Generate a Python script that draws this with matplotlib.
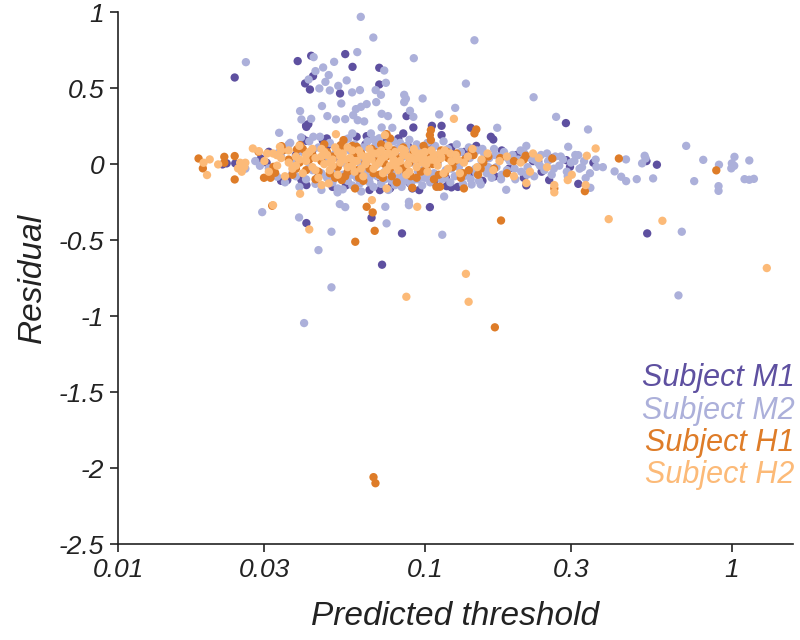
import numpy as np
import matplotlib
matplotlib.use('Agg')
import matplotlib.pyplot as plt

# (predicted threshold, residual)
m1_pts = [
    (0.0219, -0.002), (0.0226, 0.005), (0.0241, 0.005), (0.0292, 0.037), (0.0298, 0.015),
    (0.031, 0.081), (0.0305, 0.009), (0.034, -0.11), (0.038, 0.06), (0.040, -0.13),
    (0.043, 0.09), (0.045, -0.08), (0.048, 0.12), (0.050, -0.15), (0.053, 0.03),
    (0.056, -0.12), (0.058, 0.10), (0.061, -0.05), (0.064, 0.13), (0.066, -0.17),
    (0.069, 0.07), (0.072, -0.10), (0.075, 0.15), (0.078, -0.14), (0.081, 0.05),
    (0.084, -0.08), (0.088, 0.12), (0.091, -0.16), (0.095, 0.09), (0.099, -0.04),
    (0.103, 0.14), (0.107, -0.12), (0.112, 0.06), (0.117, -0.09), (0.122, 0.11),
    (0.128, -0.15), (0.134, 0.08), (0.140, -0.06), (0.147, 0.12), (0.154, -0.11),
    (0.161, 0.04), (0.169, -0.08), (0.178, 0.09), (0.188, -0.03), (0.199, 0.06),
    (0.21, -0.09), (0.225, 0.02), (0.24, -0.05), (0.26, 0.04),
    (0.024, 0.57), (0.0385, 0.678), (0.0426, 0.713), (0.055, 0.724), (0.0581, 0.64),
    (0.071, 0.634), (0.0432, 0.579), (0.0407, 0.531), (0.0422, 0.491), (0.0529, 0.465),
    (0.071, 0.524), (0.0871, 0.316), (0.041, 0.254), (0.0917, 0.241), (0.1054, 0.252),
    (0.1133, 0.252), (0.040, 0.167), (0.085, 0.202), (0.0819, 0.169), (0.0646, 0.184),
    (0.0599, 0.18), (0.0479, 0.169), (0.0465, 0.153), (0.0411, 0.245), (0.0417, 0.263),
    (0.0411, 0.153), (0.1133, 0.191), (0.141, 0.239), (0.164, 0.18), (0.167, 0.162),
    (0.288, 0.27), (0.234, 0.018), (0.289, 0.026), (0.297, -0.018), (0.354, 0.009),
    (0.527, 0.02), (0.57, -0.004), (0.316, -0.13), (0.254, -0.105), (0.214, -0.14),
    (0.122, -0.153), (0.0356, -0.105), (0.0411, -0.138), (0.0396, -0.105), (0.0553, -0.14),
    (0.0713, -0.171), (0.077, -0.16), (0.0894, -0.127), (0.0958, -0.171), (0.1177, -0.145),
    (0.0411, -0.388), (0.067, -0.353), (0.0725, -0.662), (0.0842, -0.456), (0.1038, -0.283),
    (0.0817, -0.101), (0.53, -0.456),
]

m2_pts = [
    (0.026, -0.03), (0.028, 0.02), (0.029, -0.011), (0.031, -0.028), (0.033, -0.083),
    (0.034, 0.05), (0.035, -0.12), (0.036, 0.13), (0.037, -0.06), (0.038, 0.02),
    (0.039, -0.15), (0.040, 0.08), (0.041, -0.10), (0.042, 0.15), (0.043, -0.04),
    (0.044, -0.13), (0.045, 0.11), (0.046, -0.17), (0.047, 0.04), (0.048, -0.09),
    (0.049, 0.14), (0.050, -0.12), (0.051, 0.07), (0.052, -0.16), (0.053, 0.12),
    (0.054, -0.07), (0.055, 0.16), (0.056, -0.11), (0.057, 0.09), (0.058, -0.14),
    (0.059, 0.13), (0.060, -0.09), (0.061, 0.03), (0.062, -0.18), (0.063, 0.11),
    (0.064, -0.05), (0.065, 0.15), (0.066, -0.12), (0.067, 0.06), (0.068, -0.15),
    (0.069, 0.12), (0.070, -0.08), (0.071, 0.17), (0.072, -0.13), (0.073, 0.04),
    (0.074, -0.10), (0.075, 0.13), (0.076, -0.17), (0.077, 0.08), (0.078, -0.06),
    (0.079, 0.15), (0.080, -0.12), (0.081, 0.10), (0.082, -0.09), (0.083, 0.14),
    (0.084, -0.15), (0.085, 0.05), (0.086, -0.11), (0.087, 0.12), (0.088, -0.07),
    (0.089, 0.16), (0.090, -0.13), (0.091, 0.08), (0.093, -0.10), (0.094, 0.13),
    (0.095, -0.05), (0.097, 0.11), (0.098, -0.14), (0.099, 0.06), (0.100, -0.09),
    (0.102, 0.14), (0.104, -0.12), (0.105, 0.09), (0.107, -0.06), (0.108, 0.12),
    (0.110, -0.15), (0.112, 0.07), (0.113, -0.10), (0.115, 0.15), (0.117, -0.04),
    (0.119, 0.10), (0.121, -0.12), (0.123, 0.05), (0.125, -0.08), (0.127, 0.13),
    (0.129, -0.02), (0.131, 0.08), (0.133, -0.13), (0.135, 0.03), (0.137, -0.06),
    (0.139, 0.11), (0.141, -0.10), (0.143, 0.06), (0.146, -0.03), (0.148, 0.09),
    (0.150, -0.11), (0.153, 0.02), (0.156, 0.07), (0.159, -0.06), (0.162, 0.04),
    (0.165, -0.09), (0.168, 0.10), (0.171, -0.02), (0.174, 0.05), (0.178, -0.07),
    (0.181, 0.08), (0.185, -0.04), (0.189, 0.02), (0.193, 0.06), (0.197, -0.10),
    (0.201, 0.03), (0.206, -0.05), (0.211, 0.07), (0.216, -0.02), (0.221, 0.04),
    (0.227, -0.08), (0.233, 0.01), (0.239, 0.06), (0.245, -0.04), (0.252, 0.02),
    (0.259, -0.07), (0.266, 0.05), (0.274, -0.01), (0.282, 0.03), (0.290, -0.05),
    (0.299, 0.01), (0.309, 0.06), (0.319, -0.03), (0.33, 0.02), (0.345, -0.06),
    (0.36, 0.03), (0.38, -0.02),
    (0.038, -0.08), (0.042, -0.02), (0.046, -0.06), (0.050, -0.04), (0.054, 0.01),
    (0.058, -0.07), (0.062, -0.01), (0.066, -0.09), (0.070, 0.00), (0.074, -0.05),
    (0.078, -0.11), (0.082, -0.02), (0.086, -0.07), (0.090, 0.01), (0.095, -0.10),
    (0.100, -0.03), (0.105, -0.07), (0.110, 0.00), (0.116, -0.09), (0.122, -0.03),
    (0.128, 0.01), (0.134, -0.08), (0.140, 0.04), (0.147, -0.06), (0.154, 0.10),
    (0.161, -0.02), (0.169, 0.06), (0.177, -0.10), (0.186, 0.04), (0.196, -0.03),
    (0.205, 0.09), (0.215, -0.07), (0.226, 0.03), (0.237, -0.01), (0.250, 0.07),
    (0.263, -0.03), (0.277, 0.05), (0.292, -0.08), (0.307, 0.02), (0.325, -0.02),
    (0.0261, 0.671), (0.0618, 0.969), (0.0679, 0.833), (0.145, 0.815), (0.0434, 0.704),
    (0.0602, 0.737), (0.0506, 0.673), (0.0737, 0.616), (0.092, 0.697), (0.0466, 0.636),
    (0.044, 0.612), (0.0418, 0.557), (0.0486, 0.586), (0.0474, 0.541), (0.049, 0.485),
    (0.0453, 0.498), (0.0522, 0.515), (0.0556, 0.551), (0.0579, 0.472), (0.0614, 0.487),
    (0.0746, 0.535), (0.0691, 0.487), (0.0719, 0.456), (0.0856, 0.456), (0.0867, 0.43),
    (0.0856, 0.408), (0.0983, 0.432), (0.0392, 0.349), (0.0462, 0.382), (0.0534, 0.399),
    (0.0596, 0.362), (0.0584, 0.322), (0.0604, 0.289), (0.0619, 0.377), (0.0646, 0.395),
    (0.0694, 0.408), (0.0723, 0.331), (0.0758, 0.316), (0.0396, 0.294), (0.0426, 0.298),
    (0.0481, 0.316), (0.0513, 0.294), (0.055, 0.296), (0.0634, 0.281), (0.0917, 0.311),
    (0.0894, 0.351), (0.1113, 0.327), (0.0335, 0.206), (0.0783, 0.239), (0.0723, 0.241),
    (0.0667, 0.202), (0.0679, 0.162), (0.0563, 0.169), (0.058, 0.202), (0.0455, 0.18),
    (0.0433, 0.18), (0.0395, 0.176), (0.0364, 0.14), (0.0333, 0.074), (0.136, 0.53),
    (0.226, 0.44), (0.1255, 0.37), (0.2676, 0.311), (0.34, 0.228), (0.172, 0.239),
    (0.293, 0.114), (0.214, 0.12), (0.316, 0.059), (0.452, 0.031), (0.415, -0.048),
    (0.436, -0.083), (0.4525, -0.112), (0.49, -0.099), (0.51, 0.005), (0.52, 0.055),
    (0.524, 0.037), (0.554, -0.094), (0.71, 0.12), (0.754, -0.112), (0.807, 0.028),
    (0.908, -0.004), (0.905, -0.145), (0.905, -0.176), (1.0, 0.005), (1.02, 0.048),
    (1.018, -0.011), (0.996, -0.028), (1.14, 0.024), (1.10, -0.099), (1.14, -0.103),
    (1.18, -0.097), (0.362, -0.018), (0.334, -0.092), (0.346, -0.156), (0.184, -0.169),
    (0.142, -0.134), (0.152, -0.134), (0.1155, -0.213),
    (0.0295, -0.316), (0.0389, -0.351), (0.045, -0.566), (0.0496, -0.445), (0.0528, -0.263),
    (0.055, -0.283), (0.0519, -0.186), (0.054, -0.166), (0.075, -0.39), (0.0743, -0.281),
    (0.0887, -0.248), (0.0887, -0.27), (0.1139, -0.465), (0.0496, -0.811), (0.0404, -1.046),
    (0.687, -0.445), (0.67, -0.864), (0.0614, -0.127), (0.08, -0.138), (0.084, -0.127),
]

h1_pts = [
    (0.0183, 0.037), (0.0189, -0.028), (0.0222, 0.048), (0.0222, 0.009), (0.024, 0.053),
    (0.024, -0.101), (0.0287, 0.081), (0.0299, -0.09), (0.0314, -0.09), (0.0321, -0.018),
    (0.0325, -0.057), (0.0346, 0.092), (0.0341, 0.118), (0.0383, 0.097), (0.0392, 0.125),
    (0.036, 0.03), (0.037, -0.07), (0.039, 0.01), (0.040, 0.10), (0.041, -0.04),
    (0.043, 0.06), (0.044, -0.10), (0.046, 0.02), (0.047, 0.13), (0.049, -0.06),
    (0.050, 0.05), (0.052, -0.02), (0.053, 0.09), (0.055, -0.08), (0.057, 0.01),
    (0.058, 0.12), (0.060, -0.04), (0.062, 0.07), (0.063, -0.11), (0.065, 0.03),
    (0.067, 0.10), (0.068, -0.06), (0.070, 0.02), (0.072, 0.13), (0.073, -0.09),
    (0.075, 0.05), (0.077, -0.03), (0.079, 0.09), (0.081, -0.12), (0.083, 0.04),
    (0.085, 0.11), (0.087, -0.05), (0.089, 0.01), (0.092, 0.08), (0.094, -0.09),
    (0.096, 0.03), (0.099, 0.12), (0.101, -0.03), (0.104, 0.06), (0.107, -0.10),
    (0.110, 0.02), (0.113, 0.09), (0.116, -0.06), (0.119, 0.04), (0.123, -0.02),
    (0.127, 0.07), (0.131, -0.09), (0.135, 0.03), (0.139, -0.04), (0.144, 0.06),
    (0.149, -0.07), (0.155, 0.01), (0.161, 0.05), (0.168, -0.03), (0.176, 0.04),
    (0.185, -0.06), (0.195, 0.02), (0.21, 0.03), (0.213, 0.055), (0.26, 0.037),
    (0.038, -0.03), (0.042, 0.03), (0.045, -0.05), (0.048, 0.08), (0.051, -0.09),
    (0.054, 0.04), (0.056, -0.05), (0.059, 0.06), (0.061, -0.09), (0.064, 0.01),
    (0.066, -0.03), (0.069, 0.08), (0.071, -0.07), (0.074, 0.00), (0.076, 0.11),
    (0.078, -0.08), (0.080, 0.03), (0.084, -0.02), (0.086, 0.07), (0.090, -0.08),
    (0.093, 0.05), (0.097, -0.05), (0.102, 0.09), (0.106, 0.00), (0.111, -0.07),
    (0.118, 0.08), (0.125, 0.02), (0.133, -0.06), (0.142, 0.09), (0.152, -0.03),
    (0.0532, 0.125), (0.0543, 0.158), (0.0599, 0.114), (0.075, 0.197), (0.077, 0.169),
    (0.1038, 0.191), (0.1046, 0.158), (0.1046, 0.224), (0.147, 0.228), (0.145, 0.202),
    (0.0536, -0.105), (0.0592, -0.16), (0.091, -0.156), (0.109, -0.149), (0.112, -0.149),
    (0.134, -0.16), (0.264, -0.16), (0.332, -0.178), (0.4285, 0.037), (0.89, -0.041),
    (0.0318, -0.274), (0.0646, -0.281), (0.0676, -0.318), (0.0686, -0.439), (0.0593, -0.511),
    (0.177, -0.371), (0.169, -1.074), (0.068, -2.06), (0.069, -2.10),
]

h2_pts = [
    (0.019, 0.009), (0.0195, -0.072), (0.0199, 0.031), (0.0212, -0.002), (0.0246, -0.028),
    (0.0253, -0.05), (0.0258, -0.018), (0.026, 0.009), (0.025, 0.009), (0.0275, 0.103),
    (0.0288, 0.085), (0.0306, 0.07), (0.0329, 0.059), (0.0337, 0.114),
    (0.030, 0.02), (0.031, -0.05), (0.032, 0.07), (0.033, -0.01), (0.034, 0.04),
    (0.035, -0.08), (0.036, 0.01), (0.036, 0.09), (0.037, -0.03), (0.038, 0.05),
    (0.039, 0.12), (0.040, -0.06), (0.041, 0.02), (0.042, 0.08), (0.043, -0.02),
    (0.044, 0.04), (0.045, -0.09), (0.046, 0.10), (0.047, 0.00), (0.048, 0.06),
    (0.049, -0.04), (0.050, 0.03), (0.051, 0.11), (0.052, -0.07), (0.053, 0.01),
    (0.054, 0.07), (0.056, -0.02), (0.057, 0.04), (0.058, 0.09), (0.059, -0.05),
    (0.060, 0.02), (0.062, 0.06), (0.063, -0.08), (0.064, 0.00), (0.066, 0.10),
    (0.067, 0.03), (0.068, -0.03), (0.070, 0.07), (0.071, 0.01), (0.073, -0.06),
    (0.074, 0.05), (0.076, 0.12), (0.077, -0.01), (0.079, 0.03), (0.080, 0.08),
    (0.082, -0.04), (0.083, 0.02), (0.085, 0.06), (0.087, -0.07), (0.088, 0.00),
    (0.090, 0.04), (0.092, 0.10), (0.094, -0.02), (0.096, 0.05), (0.098, 0.01),
    (0.100, 0.08), (0.102, -0.05), (0.104, 0.03), (0.107, 0.06), (0.110, -0.01),
    (0.113, 0.04), (0.116, 0.09), (0.119, -0.03), (0.122, 0.02), (0.126, 0.06),
    (0.130, -0.06), (0.134, 0.01), (0.138, 0.05), (0.143, 0.10), (0.148, -0.02),
    (0.153, 0.03), (0.160, 0.07), (0.167, -0.04), (0.175, 0.02), (0.185, 0.05),
    (0.195, -0.08), (0.205, 0.01), (0.220, -0.05), (0.235, 0.04), (0.250, -0.02),
    (0.034, 0.09), (0.038, -0.01), (0.041, 0.06), (0.044, -0.04), (0.047, 0.08),
    (0.050, -0.01), (0.053, 0.05), (0.056, 0.11), (0.059, 0.02), (0.062, -0.03),
    (0.065, 0.05), (0.069, -0.01), (0.072, 0.09), (0.075, -0.04), (0.078, 0.06),
    (0.081, 0.01), (0.086, 0.09), (0.089, -0.05), (0.093, 0.03), (0.097, 0.07),
    (0.101, 0.00), (0.105, 0.09), (0.109, 0.02), (0.115, -0.06), (0.121, 0.07),
    (0.039, 0.03), (0.043, 0.10), (0.046, 0.05), (0.049, 0.01), (0.052, 0.08),
    (0.055, 0.03), (0.058, -0.01), (0.061, 0.09), (0.064, 0.04), (0.068, 0.07),
    (0.072, 0.03), (0.076, 0.07), (0.080, -0.01), (0.084, 0.10), (0.088, 0.05),
    (0.093, 0.08), (0.099, 0.04), (0.106, 0.03), (0.112, 0.07), (0.128, 0.03),
    (0.042, -0.43), (0.0392, -0.195), (0.032, -0.27), (0.0672, -0.237), (0.0944, -0.281),
    (0.087, -0.873), (0.136, -0.722), (0.1388, -0.906), (0.397, -0.362), (0.594, -0.373),
    (1.30, -0.684), (0.264, -0.138), (0.264, -0.186), (0.334, -0.138), (0.292, -0.105),
    (0.301, -0.07), (0.214, -0.125), (0.36, 0.103), (0.337, 0.055), (0.225, 0.07),
    (0.1243, 0.298), (0.0741, 0.191), (0.0513, 0.197), (0.0461, -0.138), (0.0486, -0.127),
    (0.075, -0.16),
]

labels = ['Subject M1', 'Subject M2', 'Subject H1', 'Subject H2']
colors = ['#5e50a0', '#acb0da', '#de7c28', '#fcba78']
series = [m1_pts, m2_pts, h1_pts, h2_pts]

x_ticks = [0.01, 0.03, 0.1, 0.3, 1]
x_ticklabels = ['0.01', '0.03', '0.1', '0.3', '1']
y_ticks = [1, 0.5, 0, -0.5, -1, -1.5, -2, -2.5]
y_ticklabels = ['1', '0.5', '0', '-0.5', '-1', '-1.5', '-2', '-2.5']

plt.rcParams['font.family'] = ['Liberation Sans', 'DejaVu Sans']
plt.rcParams['font.style'] = 'italic'

fig = plt.figure(figsize=(8, 6.4), dpi=100)
ax = fig.add_axes([0.1475, 0.15, 0.8435, 0.831])

for pts, c in zip(series, colors):
    arr = np.array(pts)
    ax.scatter(arr[:, 0], arr[:, 1], s=36, color=c, edgecolors='none', zorder=2)

ax.set_xscale('log')
ax.set_xlim(0.01, 1.58)
ax.set_ylim(-2.5, 1)
ax.set_xticks(x_ticks)
ax.set_xticklabels(x_ticklabels)
ax.minorticks_off()
ax.set_yticks(y_ticks)
ax.set_yticklabels(y_ticklabels)

for side in ['top', 'right']:
    ax.spines[side].set_visible(False)
for side in ['left', 'bottom']:
    ax.spines[side].set_linewidth(1.2)
    ax.spines[side].set_color('#222222')
ax.tick_params(direction='out', length=6, width=1.2, labelsize=19, color='#222222',
               labelcolor='#222222', pad=4)

ax.set_xlabel('Predicted threshold', fontsize=24, color='#222222', labelpad=14)
ax.set_ylabel('Residual', fontsize=24, color='#222222', labelpad=8)

# colored text legend, bottom right
for i, (lab, c) in enumerate(zip(labels, colors)):
    ax.text(1.003, 0.312 - i * 0.061, lab, transform=ax.transAxes, ha='right',
            va='center', fontsize=22, color=c)

fig.savefig('out.png', dpi=100)
